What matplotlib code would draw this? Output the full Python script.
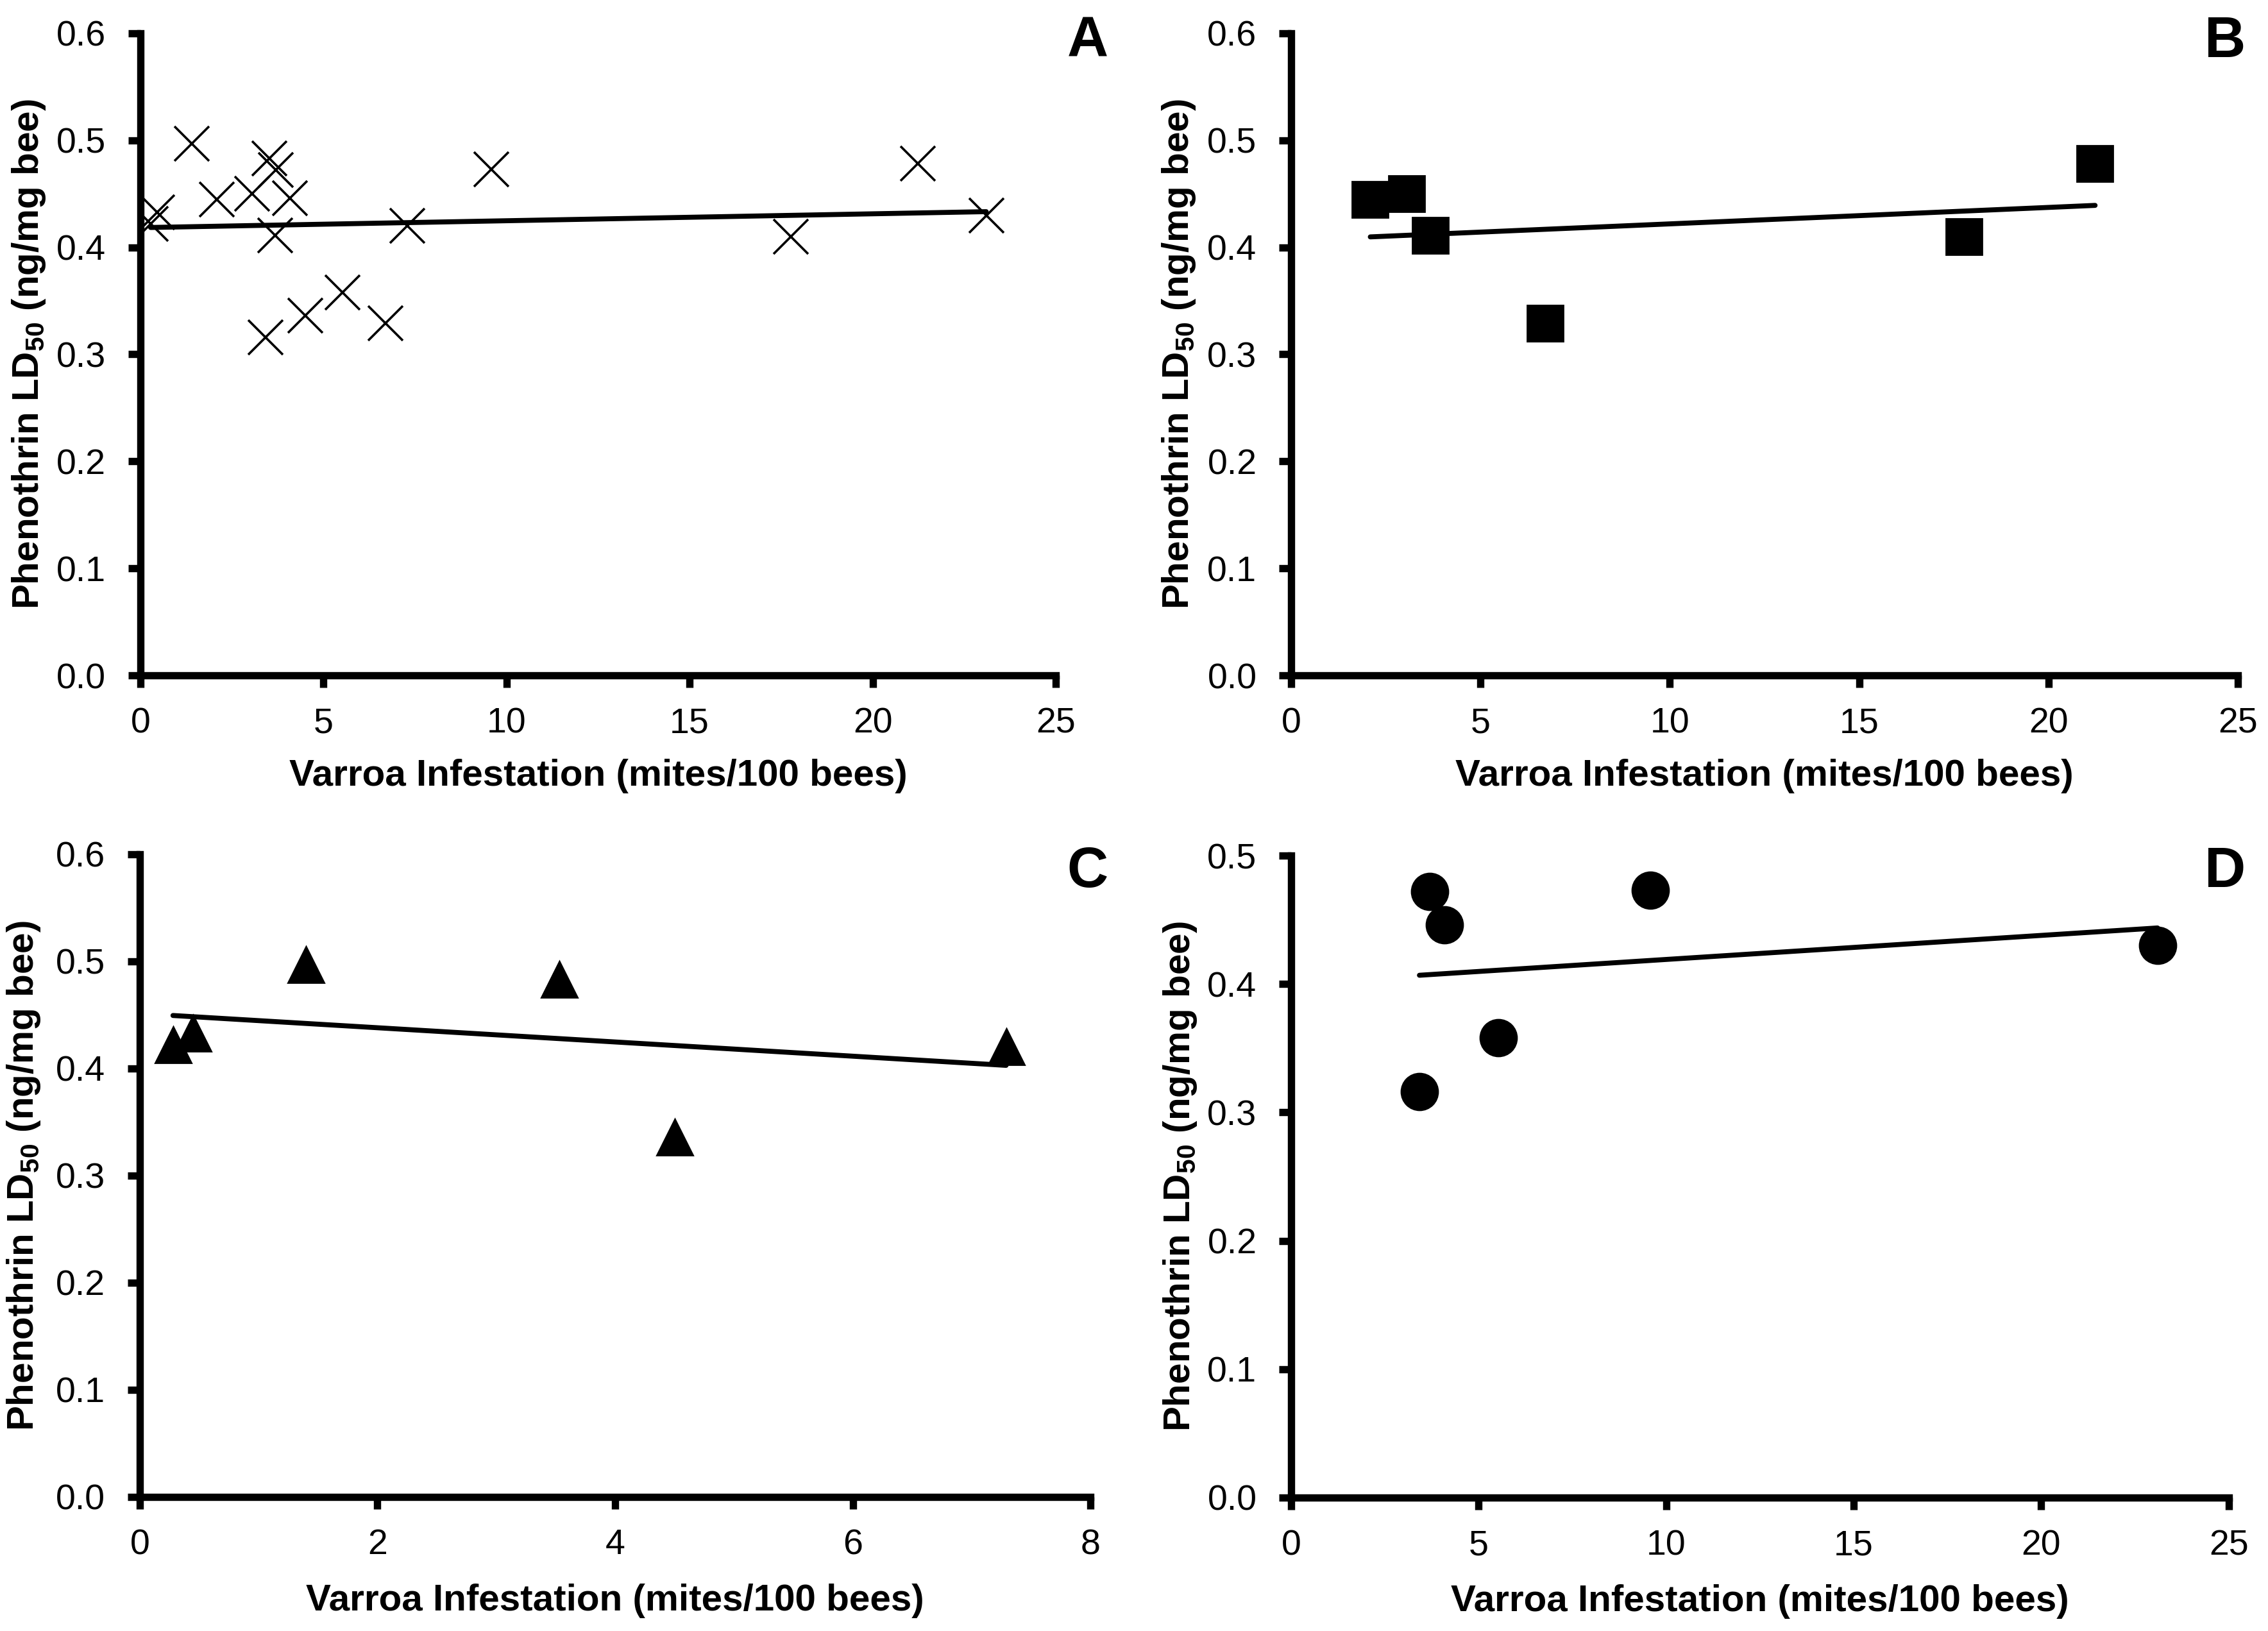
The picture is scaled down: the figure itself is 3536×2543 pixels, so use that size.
import matplotlib
matplotlib.use("Agg")
import matplotlib.pyplot as plt
import numpy as np
from matplotlib.ticker import FormatStrFormatter

plt.rcParams['font.family'] = ['Liberation Sans', 'DejaVu Sans']
plt.rcParams['mathtext.fontset'] = 'custom'
plt.rcParams['mathtext.rm'] = 'Liberation Sans:bold'
plt.rcParams['mathtext.bf'] = 'Liberation Sans:bold'
plt.rcParams['mathtext.it'] = 'Liberation Sans:bold'

# data (mites/100 bees, LD50 ng/mg bee)
b_mites = [2.09, 3.05, 3.68, 6.70, 17.76, 21.23]
b_ld50 = [0.445, 0.450, 0.411, 0.329, 0.410, 0.478]

c_mites = [0.28, 0.45, 1.40, 3.53, 4.50, 7.29]
c_ld50 = [0.422, 0.433, 0.497, 0.483, 0.336, 0.420]

d_mites = [3.42, 3.70, 4.08, 5.52, 9.58, 23.10]
d_ld50 = [0.316, 0.472, 0.446, 0.358, 0.473, 0.430]

# panel A pools all colonies
a_mites = b_mites + c_mites + d_mites
a_ld50 = b_ld50 + c_ld50 + d_ld50

panel_letters = ['A', 'B', 'C', 'D']

fig = plt.figure(figsize=(17.68, 12.715), dpi=200)

# axes boxes [left, bottom, width, height]
boxes = [
    [0.0619, 0.5859, 0.4036, 0.3937],
    [0.5693, 0.5859, 0.4174, 0.3937],
    [0.0616, 0.0822, 0.4192, 0.3942],
    [0.5693, 0.0818, 0.4134, 0.3936],
]

panels = [
    (a_mites, a_ld50, 'x', 25, 5, 0.6),
    (b_mites, b_ld50, 's', 25, 5, 0.6),
    (c_mites, c_ld50, '^', 8, 2, 0.6),
    (d_mites, d_ld50, 'o', 25, 5, 0.5),
]

xlab_y = [-0.157, -0.157, -0.162, -0.162]
ylab_x = [-0.122, -0.1186, -0.122, -0.1186]
letter_pos = [(0.4796, 0.9742), (0.981, 0.9742), (0.4796, 0.4652), (0.981, 0.4652)]

for i, (xs, ys, mk, xmax, xstep, ymax) in enumerate(panels):
    ax = fig.add_axes(boxes[i])
    if mk == 'x':
        ax.plot(xs, ys, linestyle='none', marker='x', ms=19.5, mew=1.3, color='black')
    else:
        ax.plot(xs, ys, linestyle='none', marker=mk, ms=20.5, mew=1, color='black')

    # linear trend line over the data range
    slope, icept = np.polyfit(xs, ys, 1)
    xl = np.array([min(xs), max(xs)])
    ax.plot(xl, slope * xl + icept, color='black', lw=2.8, solid_capstyle='round')

    ax.set_xlim(0, xmax)
    ax.set_ylim(0, ymax)
    ax.set_xticks(np.arange(0, xmax + 0.01, xstep))
    ax.set_yticks(np.arange(0, ymax + 0.001, 0.1))
    ax.yaxis.set_major_formatter(FormatStrFormatter('%.1f'))

    for s in ['top', 'right']:
        ax.spines[s].set_visible(False)
    for s in ['left', 'bottom']:
        ax.spines[s].set_linewidth(4.1)
    ax.tick_params(direction='out', length=6.8, width=4.1, labelsize=20)
    ax.tick_params(axis='x', pad=11)
    ax.tick_params(axis='y', pad=12.5)

    ax.set_xlabel('Varroa Infestation (mites/100 bees)', fontsize=21,
                  fontweight='bold', va='center')
    ax.xaxis.set_label_coords(0.5, xlab_y[i])
    ax.set_ylabel('Phenothrin LD$_{50}$ (ng/mg bee)', fontsize=21,
                  fontweight='bold', va='center')
    ax.yaxis.set_label_coords(ylab_x[i], 0.5)

    fig.text(letter_pos[i][0], letter_pos[i][1], panel_letters[i], fontsize=32,
             fontweight='bold', ha='center', va='center')

fig.savefig('out.png', dpi=200)
